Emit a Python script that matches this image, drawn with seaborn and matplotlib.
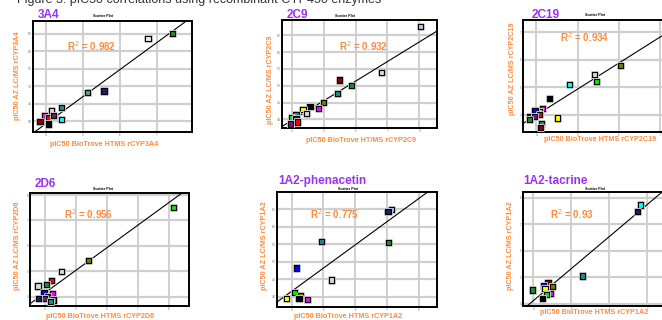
import numpy as np
import pandas as pd
import seaborn as sns
import matplotlib.pyplot as plt
import matplotlib.patheffects as pe

sns.set_style("white")
plt.rcParams['font.family'] = ['Liberation Sans', 'DejaVu Sans']

# cores dos compostos
WHT, LGR, GRN, STL, NAV, TEA = '#ececec', '#d8d8d8', '#1f8a2a', '#6a94a6', '#1c1c70', '#1f8c8c'
MAG, RED, PUR, DRD, BLK, CYN = '#ff00ff', '#ff0000', '#6a1f6a', '#8b0000', '#000000', '#00ffff'
BGR, BLU, YEL, OLV, LBL = '#00ee00', '#0000ff', '#ffff00', '#7a7a00', '#b0c8e0'

titles = ['3A4', '2C9', '2C19', '2D6', '1A2-phenacetin', '1A2-tacrine']
r2_labels = ['R$^2$ = 0.982', 'R$^2$ = 0.932', 'R$^2$ = 0.934', 'R$^2$ = 0.956', 'R$^2$ = 0.775', 'R$^2$ = 0.93']
x_labels = ['pIC50 BioTrove HTMS rCYP3A4', 'pIC50 BioTrove HT/MS rCYP2C9', 'pIC50 BioTrove HTMS rCYP2C19',
            'pIC50 BioTrove HTMS rCYP2D6', 'pIC50 BioTrove HTMS rCYP1A2', 'pIC50 BioTrove HTMS rCYP1A2']
y_labels = ['pIC50 AZ LC/MS rCYP3A4', 'pIC50 AZ LC/MS rCYP2C9', 'pIC50 AZ LC/MS rCYP2C19',
            'pIC50 AZ LC/MS rCYP2D6', 'pIC50 AZ LC/MS rCYP1A2', 'pIC50 AZ LC/MS rCYP1A2']

# 3A4
x_3a4 = [6.76, 7.42, 5.12, 5.57, 4.42, 4.14, 3.97, 4.08, 4.21, 3.84, 4.08, 4.43]
y_3a4 = [6.35, 6.51, 4.82, 4.86, 4.39, 4.29, 4.15, 4.09, 4.15, 3.98, 3.92, 4.04]
c_3a4 = [WHT, GRN, STL, NAV, TEA, LGR, MAG, RED, PUR, DRD, BLK, CYN]
# 2C9
x_2c9 = [8.05, 6.82, 5.48, 5.88, 5.42, 4.98, 4.56, 4.34, 4.83, 4.45, 4.12, 3.99, 4.12, 4.18, 3.95]
y_2c9 = [6.76, 5.39, 5.17, 5.00, 4.76, 4.49, 4.38, 4.30, 4.32, 4.17, 4.13, 4.05, 4.02, 3.92, 3.86]
c_2c9 = [LBL, LGR, DRD, GRN, TEA, OLV, BLK, YEL, MAG, LGR, TEA, BGR, BLU, RED, PUR]
# 2C19
x_2c19 = [6.03, 5.40, 5.45, 4.80, 4.33, 4.16, 4.07, 3.97, 4.08, 3.83, 3.96, 3.83, 4.52, 4.13, 4.11]
y_2c19 = [5.78, 5.45, 5.22, 5.09, 4.59, 4.24, 4.11, 4.17, 4.00, 3.95, 3.93, 3.83, 3.89, 3.68, 3.54]
c_2c19 = [OLV, LGR, BGR, CYN, BLK, MAG, LGR, BLU, RED, NAV, PUR, GRN, YEL, TEA, DRD]
# 2D6
x_2d6 = [8.16, 5.40, 4.53, 4.22, 4.06, 3.78, 3.97, 4.24, 4.09, 3.98, 3.80, 4.27, 4.19]
y_2d6 = [7.52, 5.41, 5.00, 4.63, 4.47, 4.42, 4.16, 4.11, 4.00, 3.92, 3.94, 3.87, 3.82]
c_2d6 = [BGR, OLV, LGR, RED, GRN, LGR, BLU, MAG, DRD, PUR, NAV, OLV, TEA]
# 1A2 phenacetin
x_phen = [7.13, 7.03, 4.95, 7.04, 4.16, 5.25, 4.08, 4.29, 4.23, 3.85, 4.49]
y_phen = [6.50, 6.43, 5.57, 5.55, 4.82, 4.48, 4.13, 4.03, 3.95, 3.96, 3.93]
c_phen = [CYN, NAV, TEA, GRN, BLU, LGR, BGR, OLV, BLK, YEL, MAG]
# 1A2 tacrine
x_tac = [6.82, 6.75, 5.29, 3.99, 4.39, 4.27, 4.50, 4.31, 4.44, 4.35, 4.25]
y_tac = [7.72, 7.47, 5.05, 4.52, 4.80, 4.70, 4.64, 4.59, 4.40, 4.35, 4.20]
c_tac = [CYN, NAV, TEA, GRN, DRD, BLU, OLV, YEL, MAG, BGR, BLK]

# linha de tendencia (inclinacao, intercepto)
fit_slope = [0.772, 0.583, 0.945, 0.889, 0.662, 1.207]
fit_icpt = [0.84, 1.64, 0.21, 0.59, 1.51, -0.71]

x_ticks = [[4, 5, 6, 7], [4, 5, 6, 7, 8], [4, 5, 6, 7], [4, 5, 6, 7, 8], [4, 5, 6, 7, 8], [4, 5, 6, 7]]
y_ticks = [[4, 4.5, 5, 5.5, 6, 6.5], [4, 4.5, 5, 5.5, 6, 6.5], [4, 5, 6, 7],
           [4, 5, 6, 7, 8], [4, 4.5, 5, 5.5, 6, 6.5], [4, 5, 6, 7, 8]]
x_lims = [(3.65, 7.95), (3.68, 8.56), (3.68, 7.55), (3.52, 8.65), (3.54, 8.57), (3.73, 7.94)]
y_lims = [(3.69, 6.86), (3.74, 6.96), (3.38, 7.44), (3.63, 8.08), (3.71, 6.99), (3.92, 8.21)]

xs = [x_3a4, x_2c9, x_2c19, x_2d6, x_phen, x_tac]
ys = [y_3a4, y_2c9, y_2c19, y_2d6, y_phen, y_tac]
cs = [c_3a4, c_2c9, c_2c19, c_2d6, c_phen, c_tac]

# layout em pixels
W, H = 662, 320
boxes = [(33, 21, 192, 132), (282, 20, 437, 128), (523, 20, 683, 132),
         (30, 193, 189, 306), (277, 192, 437, 307), (523, 192, 683, 306)]
title_pos = [(38, 18), (287, 18), (532, 18), (35, 187), (278, 184), (523, 184)]
r2_pos = [(92, 46), (364, 46.5), (585, 37), (89, 214), (335, 214), (571.5, 214)]
xl_pos = [(104.5, 144.5), (361.5, 140.5), (600, 139.5), (100.5, 316.5), (348, 316.5), (594.5, 313)]
yl_pos = [(17.5, 76), (270.5, 79.5), (512.5, 68.5), (17.5, 245.5), (264.5, 245.5), (510.5, 245.5)]
sp_pos = [(103, 16), (345, 16), (595, 15), (103, 189), (348, 189), (595, 189)]

PURPLE = '#9b30f5'
ORANGE = '#ff8a3d'

fig = plt.figure(figsize=(W / 100, H / 100), dpi=100)

def fx(x):
    return x / W

def fy(y):
    return 1 - y / H

fig.text(fx(17), fy(3), 'Figure 3: pIC50 correlations using recombinant CYP450 enzymes',
         fontsize=9, color='#333333', va='baseline', ha='left')

for i in range(6):
    l, t, r, b = boxes[i]
    ax = fig.add_axes([fx(l), fy(b), (r - l) / W, (b - t) / H])
    df = pd.DataFrame({'x': xs[i], 'y': ys[i], 'c': cs[i]})
    ax.set_xlim(x_lims[i])
    ax.set_ylim(y_lims[i])
    ax.set_xticks(x_ticks[i])
    ax.set_yticks(y_ticks[i])
    ax.grid(True, color='#c4c4c4', lw=1.1)
    ax.set_axisbelow(True)
    for gl in ax.get_ygridlines():
        gl.set_linewidth(1.6)
        gl.set_color('#cfcfcf')
    ax.axline((0, fit_icpt[i]), slope=fit_slope[i], color='black', lw=0.8, zorder=2)
    sns.scatterplot(data=df, x='x', y='y', hue='c', palette={c: c for c in df['c']},
                    marker='s', s=14, edgecolor='black', linewidth=0.8, legend=False, ax=ax, zorder=3)
    for coll in ax.collections:
        coll.set_path_effects([pe.withStroke(linewidth=2.2, foreground='#c8c8c8')])
    ax.tick_params(length=0, labelsize=2, labelcolor='#666666', pad=1)
    ax.set_xlabel('')
    ax.set_ylabel('')
    for sp in ax.spines.values():
        sp.set_color('black')
        sp.set_linewidth(1.4)

    fig.text(fx(title_pos[i][0]), fy(title_pos[i][1]), titles[i], fontsize=8.5,
             fontweight='bold', color=PURPLE, ha='left', va='baseline')
    fig.text(fx(sp_pos[i][0]), fy(sp_pos[i][1]), 'Scatter Plot', fontsize=2.6,
             fontweight='bold', color='black', ha='center', va='center')
    fig.text(fx(r2_pos[i][0]), fy(r2_pos[i][1]), r2_labels[i], fontsize=7,
             fontweight='bold', color=ORANGE, ha='center', va='center')
    fig.text(fx(xl_pos[i][0]), fy(xl_pos[i][1]), x_labels[i], fontsize=5.2,
             fontweight='bold', color=ORANGE, ha='center', va='center')
    fig.text(fx(yl_pos[i][0]), fy(yl_pos[i][1]), y_labels[i], fontsize=5.2,
             fontweight='bold', color=ORANGE, ha='center', va='center', rotation=90)

fig.savefig('out.png', dpi=100)
